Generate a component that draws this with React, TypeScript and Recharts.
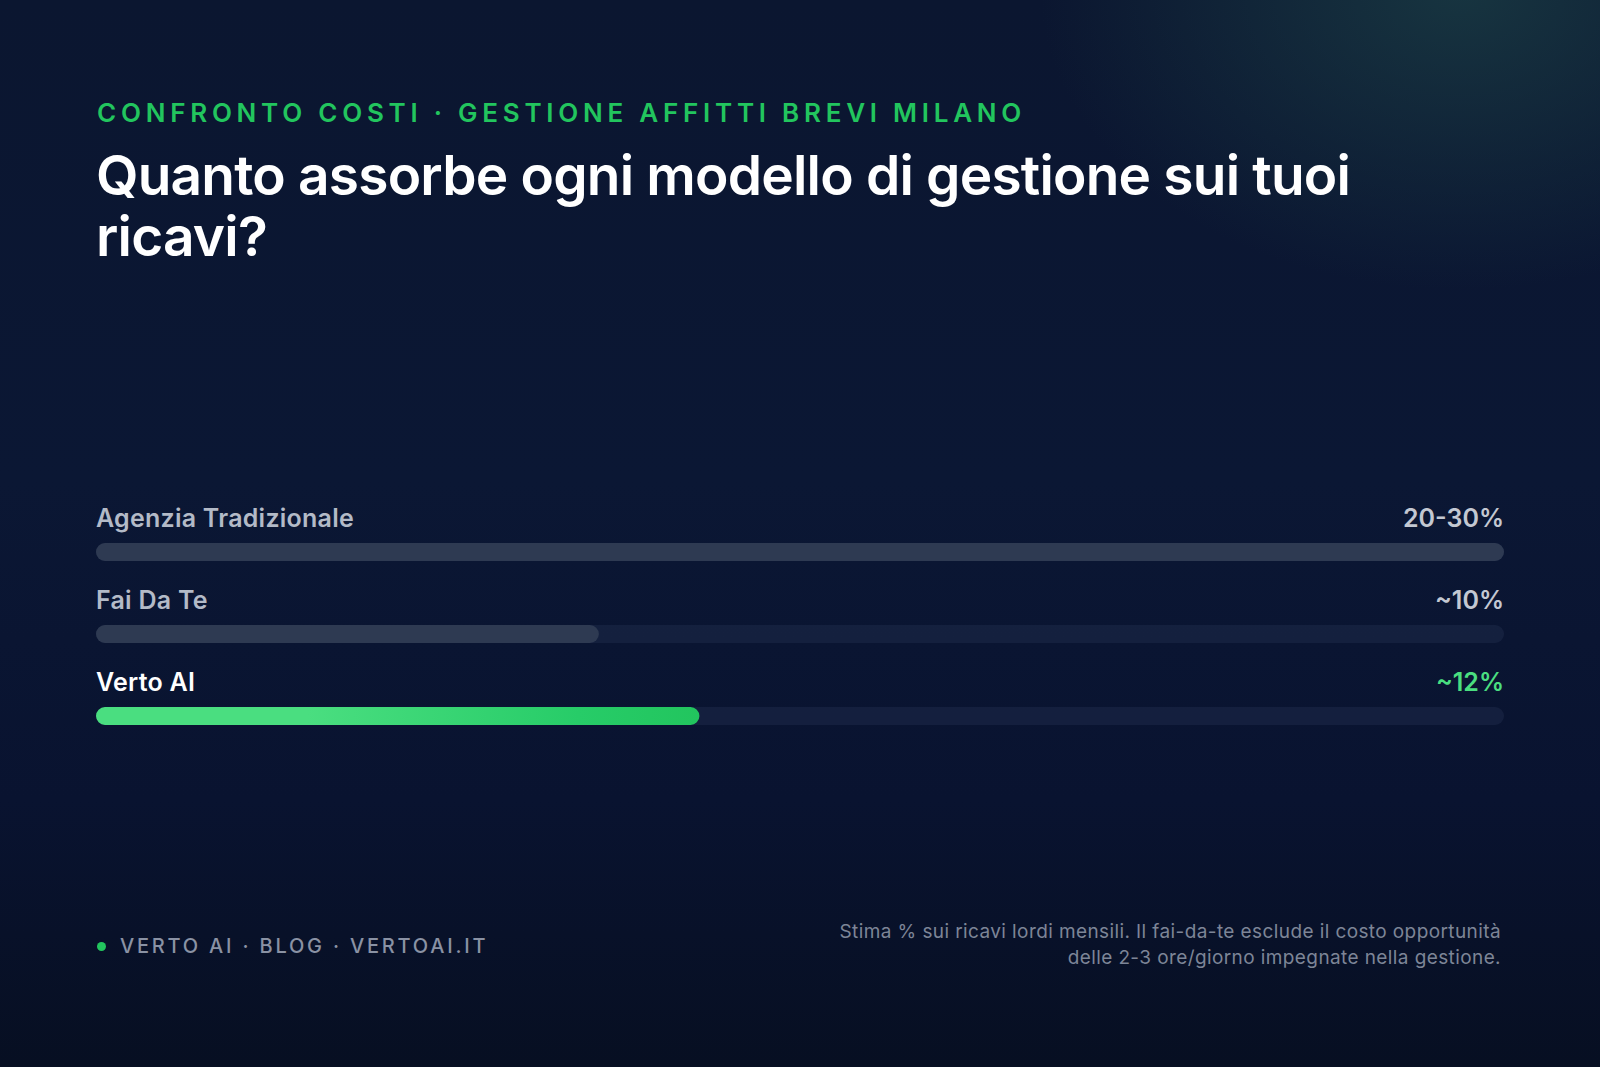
import { BarChart, Bar, XAxis, YAxis, Cell, LabelList } from "recharts";

// cost share of monthly gross revenue, per management model
const models = ["Agenzia Tradizionale", "Fai Da Te", "Verto AI"];
const costShare = [28, 10, 12];
const valueLabels = ["20-30%", "~10%", "~12%"];
const SCALE_MAX = 28;

const FONT = "Inter, 'Noto Sans', sans-serif";
const TRACK = "rgba(120,140,175,0.1)";
const GREY_BAR = "#2e3a52";
const CHART_W = 1408;

const chartData = models.map((name, i) => ({
  name,
  value: costShare[i],
  label: valueLabels[i],
}));

const nameColor = (i: number) => (i === 2 ? "#ffffff" : "#b3bac7");
const valueColor = (i: number) => (i === 2 ? "#4ade80" : "#c3c8d2");

const RowLabels = (props: any) => {
  const { x, y, index } = props;
  const row = chartData[index];
  return (
    <g>
      <text
        x={x}
        y={y - 16}
        fill={nameColor(index)}
        fontFamily={FONT}
        fontSize={25}
        fontWeight={600}
        letterSpacing={0.25}
      >
        {row.name}
      </text>
      <text
        x={x + CHART_W}
        y={y - 16}
        textAnchor="end"
        fill={valueColor(index)}
        fontFamily={FONT}
        fontSize={25}
        fontWeight={600}
      >
        {row.label}
      </text>
    </g>
  );
};

export default function App() {
  return (
    <div
      style={{
        position: "absolute",
        left: 0,
        top: 0,
        width: 1600,
        height: 1067,
        overflow: "hidden",
        fontFamily: FONT,
        background:
          "radial-gradient(ellipse 420px 300px at 1460px -10px, rgba(26,60,68,0.8), rgba(20,40,60,0) 100%), linear-gradient(180deg, #0b1630 0%, #0b1734 45%, #091330 75%, #070f22 100%)",
      }}
    >
      <div
        style={{
          position: "absolute",
          left: 97,
          top: 98,
          color: "#22c55e",
          fontSize: 26,
          fontWeight: 600,
          letterSpacing: 4.75,
          lineHeight: "30px",
        }}
      >
        CONFRONTO COSTI · GESTIONE AFFITTI BREVI MILANO
      </div>
      <div
        style={{
          position: "absolute",
          left: 96,
          top: 145,
          width: 1320,
          color: "#ffffff",
          fontSize: 55,
          fontWeight: 600,
          letterSpacing: -0.8,
          lineHeight: "61px",
        }}
      >
        Quanto assorbe ogni modello di gestione sui tuoi ricavi?
      </div>

      <div style={{ position: "absolute", left: 96, top: 471 }}>
        <BarChart
          width={CHART_W}
          height={286}
          layout="vertical"
          data={chartData}
          margin={{ top: 40, right: 0, bottom: 0, left: 0 }}
          barCategoryGap={0}
          style={{ overflow: "visible" }}
        >
          <defs>
            <linearGradient id="vertoFill" x1="0" y1="0" x2="1" y2="0">
              <stop offset="0%" stopColor="#4ade80" />
              <stop offset="35%" stopColor="#4ade80" />
              <stop offset="80%" stopColor="#27cc68" />
              <stop offset="100%" stopColor="#22c55e" />
            </linearGradient>
          </defs>
          <XAxis type="number" domain={[0, SCALE_MAX]} hide />
          <YAxis type="category" dataKey="name" hide />
          <Bar
            dataKey="value"
            barSize={18}
            radius={9}
            background={{ fill: TRACK, radius: 9 }}
            isAnimationActive={false}
          >
            {chartData.map((d, i) => (
              <Cell key={d.name} fill={i === 2 ? "url(#vertoFill)" : GREY_BAR} />
            ))}
            <LabelList dataKey="value" content={RowLabels} />
          </Bar>
        </BarChart>
      </div>

      <div
        style={{
          position: "absolute",
          left: 97,
          top: 942,
          width: 9,
          height: 9,
          borderRadius: 5,
          background: "#22c55e",
        }}
      />
      <div
        style={{
          position: "absolute",
          left: 120,
          top: 933,
          color: "#8a92a4",
          fontSize: 20,
          fontWeight: 500,
          letterSpacing: 2.8,
          lineHeight: "26px",
        }}
      >
        VERTO AI · BLOG · VERTOAI.IT
      </div>
      <div
        style={{
          position: "absolute",
          right: 99,
          top: 919,
          textAlign: "right",
          color: "#7d8597",
          fontSize: 19,
          letterSpacing: 0.4,
          lineHeight: "26px",
        }}
      >
        Stima % sui ricavi lordi mensili. Il fai-da-te esclude il costo opportunità
        <br />
        delle 2-3 ore/giorno impegnate nella gestione.
      </div>
    </div>
  );
}
